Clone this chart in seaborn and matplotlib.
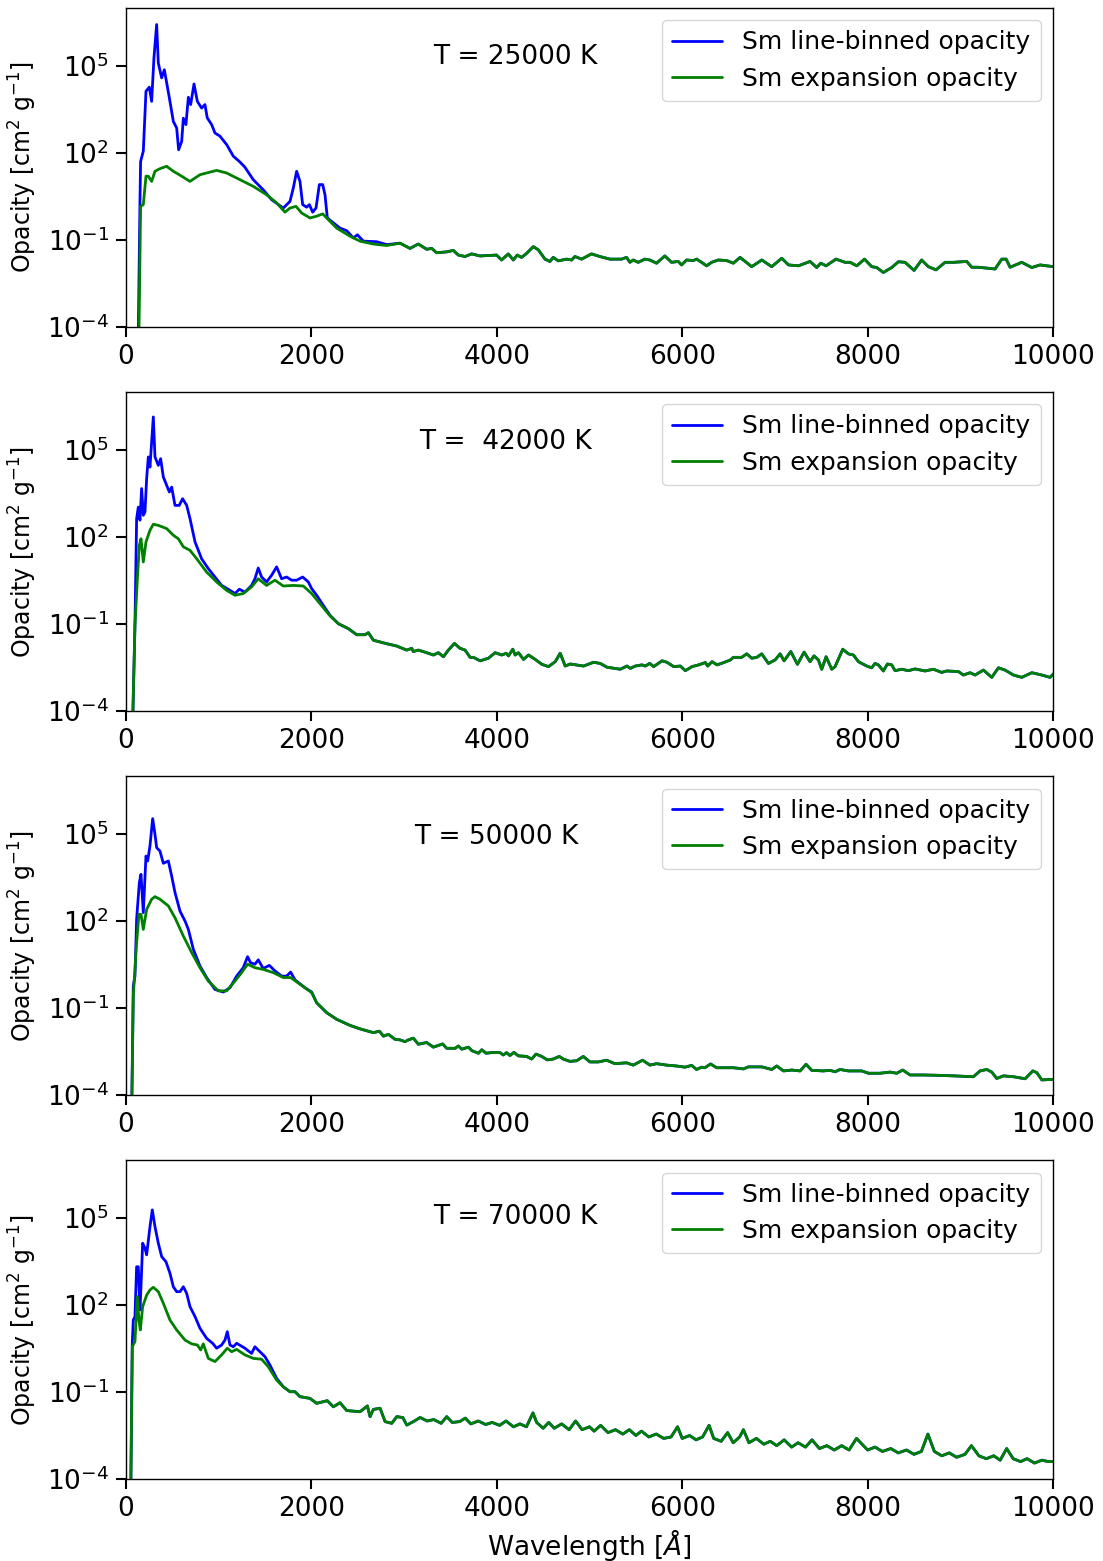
import matplotlib
matplotlib.use("Agg")
import matplotlib.pyplot as plt
import matplotlib.ticker as mticker
import seaborn as sns
import numpy as np

# ---- data: wavelength [A] and log10(opacity [cm^2 g^-1]) ----
temps = ["T = 25000 K", "T =  42000 K", "T = 50000 K", "T = 70000 K"]

# panel 1 : T = 25000 K
p1_blue_wl = [130, 151, 158, 187, 216, 252, 277, 302, 331, 349, 385, 414, 468, 511, 547, 568, 601, 619,
              647, 673, 698, 734, 770, 816, 852, 877, 924, 960, 1014, 1086, 1158, 1229, 1283, 1373, 1481,
              1571, 1697, 1769, 1805, 1841, 1877, 1906, 1949, 1978, 2014, 2050, 2086, 2122, 2147, 2172,
              2237, 2309, 2381, 2453, 2496, 2561, 2705, 2813]
p1_blue_lg = [-5, 0.33, 1.71, 2.06, 4.13, 4.27, 3.78, 5.28, 6.43, 5.1, 4.59, 4.87, 3.9, 3.09, 2.86, 2.11,
              2.4, 3.2, 2.98, 3.92, 3.67, 4.38, 3.78, 3.55, 3.67, 3.21, 2.98, 2.69, 2.58, 2.29, 1.89, 1.69,
              1.51, 1.08, 0.73, 0.39, 0.1, 0.33, 0.79, 1.37, 1.02, 0.22, 0.13, 0.22, -0.04, 0.1, 0.91, 0.91,
              0.56, -0.24, -0.41, -0.59, -0.68, -0.93, -0.82, -1.04, -1.06, -1.16]
p1_green_wl = [137, 158, 187, 216, 241, 277, 313, 367, 439, 511, 601, 690, 798, 978, 1086, 1229, 1373,
               1517, 1625, 1715, 1769, 1834, 1895, 1985, 2057, 2122, 2183, 2273, 2417, 2525, 2669, 2813]
p1_green_lg = [-5, 0.16, 0.22, 1.2, 1.2, 1.02, 1.37, 1.46, 1.54, 1.37, 1.2, 1.02, 1.25, 1.4, 1.31, 1.08,
               0.85, 0.56, 0.28, -0.04, 0.1, 0.16, -0.07, -0.24, -0.18, -0.1, -0.3, -0.59, -0.87, -1.04,
               -1.14, -1.19]
p1_tail_wl = [2956, 3064, 3153, 3244, 3298, 3351, 3460, 3531, 3585, 3657, 3729, 3819, 3998, 4052, 4124,
              4178, 4221, 4268, 4322, 4394, 4448, 4520, 4573, 4609, 4663, 4753, 4807, 4843, 4915, 5022,
              5112, 5220, 5346, 5400, 5436, 5472, 5525, 5597, 5651, 5723, 5813, 5885, 5957, 5993, 6047,
              6119, 6155, 6209, 6263, 6317, 6389, 6480, 6552, 6624, 6750, 6858, 6966, 7074, 7146, 7254,
              7379, 7451, 7494, 7552, 7659, 7757, 7811, 7883, 7966, 8044, 8098, 8170, 8260, 8332, 8404,
              8501, 8583, 8655, 8738, 8835, 8925, 9069, 9123, 9195, 9285, 9375, 9447, 9494, 9537, 9663,
              9771, 9860, 10004]
p1_tail_lg = [-1.11, -1.29, -1.14, -1.32, -1.29, -1.44, -1.41, -1.36, -1.52, -1.57, -1.48, -1.55, -1.52,
              -1.69, -1.48, -1.69, -1.52, -1.6, -1.46, -1.23, -1.34, -1.66, -1.74, -1.6, -1.72, -1.66,
              -1.69, -1.57, -1.66, -1.48, -1.57, -1.66, -1.66, -1.6, -1.77, -1.69, -1.77, -1.66, -1.69,
              -1.8, -1.55, -1.77, -1.74, -1.86, -1.69, -1.71, -1.66, -1.77, -1.89, -1.77, -1.69, -1.71,
              -1.8, -1.6, -1.92, -1.69, -1.92, -1.63, -1.86, -1.89, -1.74, -1.95, -1.8, -1.89, -1.66,
              -1.77, -1.77, -1.89, -1.66, -1.92, -1.95, -2.12, -1.95, -1.75, -1.77, -2.05, -1.69, -1.92,
              -2.03, -1.77, -1.77, -1.74, -1.94, -1.94, -1.97, -2.0, -1.66, -1.66, -1.94, -1.77, -1.95,
              -1.86, -1.92]

# panel 2 : T = 42000 K
p2_blue_wl = [68, 97, 115, 133, 151, 169, 187, 205, 223, 241, 259, 277, 295, 313, 349, 374, 403, 439, 468,
              493, 529, 575, 611, 655, 691, 745, 816, 888, 960, 1032, 1122, 1176, 1223, 1283, 1355, 1391,
              1427, 1463, 1517, 1571, 1625, 1679, 1733, 1787, 1841, 1906, 1967, 2003, 2057, 2129, 2201]
p2_blue_lg = [-5, -1.04, 2.63, 3.03, 2.58, 3.67, 2.75, 2.86, 4.01, 4.76, 4.41, 5.28, 6.14, 4.76, 4.47,
              4.7, 4.07, 3.78, 3.55, 3.72, 3.09, 3.09, 3.32, 3.09, 2.63, 1.83, 1.25, 0.91, 0.62, 0.33,
              0.16, 0.05, 0.2, 0.1, 0.33, 0.56, 0.93, 0.62, 0.45, 0.68, 0.97, 0.56, 0.62, 0.51, 0.51,
              0.62, 0.45, 0.22, -0.01, -0.36, -0.7]
p2_green_wl = [68, 97, 123, 144, 162, 187, 216, 259, 295, 349, 439, 511, 565, 619, 691, 763, 870, 978,
               1086, 1176, 1265, 1355, 1427, 1517, 1607, 1697, 1805, 1913, 2003, 2093, 2201]
p2_green_lg = [-5, -1.04, 0.56, 1.71, 1.94, 1.14, 1.83, 2.23, 2.44, 2.4, 2.29, 2.06, 1.94, 1.66, 1.54,
               1.25, 0.79, 0.45, 0.16, -0.01, 0.05, 0.28, 0.56, 0.33, 0.51, 0.31, 0.33, 0.31, 0.05, -0.3,
               -0.72]
p2_tail_wl = [2291, 2399, 2489, 2579, 2615, 2669, 2813, 2921, 3028, 3082, 3100, 3154, 3244, 3316, 3370,
              3424, 3478, 3543, 3604, 3658, 3712, 3748, 3820, 3910, 3982, 4054, 4101, 4126, 4173, 4198,
              4234, 4288, 4342, 4414, 4486, 4558, 4630, 4684, 4738, 4792, 4936, 5044, 5116, 5188, 5332,
              5404, 5440, 5494, 5566, 5602, 5649, 5692, 5782, 5836, 5908, 5980, 6034, 6106, 6178, 6250,
              6275, 6322, 6376, 6448, 6520, 6552, 6642, 6696, 6750, 6804, 6858, 6930, 7002, 7056, 7099,
              7171, 7243, 7315, 7379, 7422, 7469, 7505, 7552, 7613, 7649, 7732, 7793, 7847, 7901, 7991,
              8044, 8080, 8116, 8170, 8213, 8260, 8296, 8368, 8440, 8512, 8620, 8710, 8799, 8853, 8979,
              9033, 9105, 9159, 9249, 9339, 9411, 9483, 9573, 9663, 9771, 9879, 9969, 10004]
p2_tail_lg = [-0.99, -1.16, -1.37, -1.37, -1.3, -1.56, -1.68, -1.76, -1.9, -1.84, -1.95, -1.9, -1.99,
              -2.07, -1.99, -2.13, -1.9, -1.67, -1.84, -1.9, -2.15, -2.15, -2.27, -2.18, -1.99, -2.07,
              -2.01, -2.1, -1.87, -2.07, -1.99, -2.22, -2.07, -2.22, -2.39, -2.47, -2.3, -2.01, -2.45,
              -2.38, -2.45, -2.32, -2.36, -2.49, -2.56, -2.45, -2.53, -2.45, -2.41, -2.45, -2.36, -2.47,
              -2.27, -2.32, -2.47, -2.45, -2.61, -2.47, -2.41, -2.33, -2.45, -2.3, -2.41, -2.33, -2.24,
              -2.15, -2.15, -2.03, -2.18, -2.15, -2.03, -2.36, -2.24, -2.03, -2.27, -1.95, -2.39, -1.97,
              -2.3, -2.1, -2.24, -2.56, -2.13, -2.56, -2.47, -1.87, -2.03, -2.07, -2.3, -2.45, -2.51,
              -2.36, -2.41, -2.62, -2.38, -2.41, -2.61, -2.56, -2.61, -2.55, -2.62, -2.56, -2.67, -2.62,
              -2.64, -2.76, -2.68, -2.76, -2.59, -2.84, -2.51, -2.59, -2.76, -2.84, -2.68, -2.76, -2.84,
              -2.72]

# panel 3 : T = 50000 K
p3_blue_wl = [60, 79, 97, 115, 144, 162, 187, 216, 234, 259, 288, 313, 331, 367, 403, 457, 493, 529, 583,
              637, 673, 727, 798, 870, 960, 1050, 1122, 1194, 1265, 1312, 1344, 1391, 1427, 1481, 1546,
              1607, 1679, 1733, 1776, 1823, 1931, 2003]
p3_blue_lg = [-5, -0.24, 0.1, 2.06, 3.32, 3.61, 2.29, 4.24, 4.07, 4.59, 5.53, 4.99, 4.53, 4.41, 3.99,
              4.07, 3.55, 2.98, 2.34, 2.0, 1.71, 1.02, 0.45, 0.05, -0.36, -0.45, -0.3, 0.1, 0.39, 0.77,
              0.56, 0.51, 0.66, 0.36, 0.47, 0.28, 0.1, 0.1, 0.24, -0.03, -0.3, -0.45]
p3_green_wl = [60, 79, 115, 140, 162, 187, 223, 277, 313, 367, 457, 529, 619, 709, 798, 888, 996, 1086,
               1176, 1247, 1312, 1391, 1481, 1589, 1697, 1776, 1877, 2003]
p3_green_lg = [-5, -0.59, 1.25, 2.23, 2.23, 1.71, 2.4, 2.75, 2.84, 2.75, 2.52, 2.11, 1.48, 0.91, 0.39,
               -0.07, -0.41, -0.41, -0.07, 0.22, 0.51, 0.39, 0.33, 0.22, 0.05, 0.05, -0.18, -0.47]
p3_tail_wl = [2057, 2165, 2273, 2417, 2525, 2669, 2734, 2777, 2831, 2903, 2956, 3010, 3046, 3100, 3154,
              3244, 3316, 3416, 3460, 3550, 3586, 3622, 3694, 3730, 3802, 3838, 3884, 3963, 4035, 4070,
              4106, 4142, 4185, 4232, 4322, 4376, 4423, 4484, 4545, 4609, 4674, 4717, 4789, 4861, 4933,
              5005, 5095, 5185, 5274, 5400, 5472, 5573, 5652, 5724, 5832, 5940, 6030, 6102, 6155, 6209,
              6245, 6306, 6371, 6515, 6552, 6660, 6714, 6858, 6966, 7020, 7092, 7182, 7272, 7336, 7397,
              7523, 7595, 7649, 7703, 7793, 7937, 8009, 8134, 8242, 8314, 8379, 8458, 8602, 8746, 8925,
              9141, 9213, 9285, 9339, 9393, 9465, 9573, 9699, 9782, 9825, 9879, 10004]
p3_tail_lg = [-0.82, -1.16, -1.39, -1.6, -1.72, -1.85, -1.8, -1.97, -1.91, -2.08, -2.1, -2.16, -2.1,
              -2.04, -2.25, -2.19, -2.35, -2.24, -2.39, -2.39, -2.31, -2.42, -2.35, -2.47, -2.56, -2.44,
              -2.56, -2.53, -2.54, -2.62, -2.54, -2.64, -2.53, -2.65, -2.67, -2.76, -2.59, -2.67, -2.79,
              -2.76, -2.67, -2.76, -2.84, -2.82, -2.67, -2.86, -2.86, -2.8, -2.92, -2.89, -2.97, -2.8,
              -2.97, -2.92, -2.97, -3.0, -3.04, -2.98, -3.12, -3.04, -3.06, -2.93, -3.06, -3.06, -3.06,
              -3.1, -3.03, -3.03, -3.12, -3.0, -3.17, -3.14, -3.17, -2.94, -3.15, -3.17, -3.15, -3.2,
              -3.12, -3.17, -3.17, -3.25, -3.25, -3.21, -3.25, -3.14, -3.31, -3.31, -3.32, -3.34, -3.37,
              -3.17, -3.12, -3.21, -3.43, -3.34, -3.37, -3.44, -3.17, -3.23, -3.48, -3.46]

# panel 4 : T = 70000 K
p4_blue_wl = [50, 68, 79, 97, 115, 133, 151, 162, 180, 205, 223, 259, 284, 313, 349, 385, 432, 475, 511,
              547, 583, 619, 655, 691, 745, 798, 870, 935, 978, 1032, 1068, 1093, 1122, 1158, 1194, 1283,
              1355, 1391, 1445, 1499, 1553, 1625, 1697]
p4_blue_lg = [-5, 0.68, 1.48, 1.6, 3.32, 3.32, 1.83, 2.63, 4.13, 3.96, 3.73, 4.7, 5.28, 4.7, 4.13, 3.67,
              3.49, 3.09, 2.63, 2.46, 2.46, 2.63, 2.4, 1.94, 1.6, 1.2, 0.85, 0.68, 0.51, 0.62, 0.79, 1.08,
              0.62, 0.56, 0.68, 0.51, 0.33, 0.56, 0.39, 0.22, -0.07, -0.53, -0.82]
p4_green_wl = [50, 68, 97, 122, 140, 155, 180, 223, 259, 295, 349, 403, 475, 547, 637, 709, 770, 806,
               834, 888, 960, 1032, 1093, 1140, 1194, 1283, 1373, 1463, 1535, 1625, 1697]
p4_green_lg = [-5, 0.56, 0.74, 2.29, 1.48, 1.14, 1.94, 2.34, 2.52, 2.61, 2.46, 2.06, 1.48, 1.14, 0.79,
               0.66, 0.62, 0.45, 0.66, 0.16, 0.05, 0.28, 0.51, 0.39, 0.47, 0.28, 0.16, 0.13, -0.13, -0.59,
               -0.82]
p4_tail_wl = [1769, 1823, 1877, 1985, 2057, 2172, 2237, 2309, 2381, 2525, 2604, 2633, 2669, 2741, 2795,
              2867, 2921, 2986, 3029, 3101, 3173, 3250, 3320, 3400, 3460, 3520, 3600, 3660, 3720, 3800,
              3880, 3950, 4030, 4100, 4180, 4250, 4320, 4390, 4430, 4500, 4560, 4620, 4700, 4780, 4850,
              4920, 5000, 5050, 5120, 5200, 5280, 5360, 5430, 5500, 5560, 5640, 5720, 5800, 5880, 5950,
              6000, 6080, 6150, 6220, 6290, 6340, 6420, 6490, 6550, 6620, 6660, 6720, 6800, 6880, 6950,
              7020, 7100, 7180, 7250, 7330, 7400, 7480, 7560, 7640, 7720, 7800, 7880, 7940, 8000, 8080,
              8160, 8250, 8330, 8420, 8500, 8580, 8650, 8720, 8800, 8880, 8960, 9050, 9120, 9200, 9280,
              9360, 9430, 9500, 9570, 9650, 9720, 9800, 9880, 9950, 10004]
p4_tail_lg = [-0.99, -0.99, -1.16, -1.22, -1.39, -1.3, -1.51, -1.37, -1.64, -1.68, -1.48, -1.85, -1.6,
              -1.56, -2.02, -2.08, -1.85, -1.88, -2.14, -2.02, -1.88, -2.0, -1.95, -2.08, -1.85, -2.05,
              -2.02, -1.9, -2.1, -2.0, -2.12, -2.05, -2.15, -2.0, -2.2, -2.1, -2.2, -1.72, -2.05, -2.25,
              -2.05, -2.25, -2.1, -2.3, -2.0, -2.3, -2.2, -2.35, -2.15, -2.4, -2.3, -2.45, -2.3, -2.5,
              -2.35, -2.55, -2.45, -2.6, -2.55, -2.2, -2.6, -2.5, -2.65, -2.55, -2.15, -2.6, -2.7, -2.4,
              -2.75, -2.55, -2.3, -2.75, -2.6, -2.8, -2.7, -2.85, -2.65, -2.9, -2.75, -2.9, -2.65, -2.95,
              -2.85, -3.0, -2.85, -3.0, -2.6, -2.8, -3.0, -2.9, -3.05, -2.95, -3.1, -3.0, -3.15, -3.05,
              -2.45, -3.05, -3.2, -3.1, -3.25, -3.15, -2.85, -3.2, -3.3, -3.2, -3.35, -2.95, -3.3, -3.4,
              -3.3, -3.45, -3.35, -3.4, -3.4]

panels = [
    (p1_blue_wl, p1_blue_lg, p1_green_wl, p1_green_lg, p1_tail_wl, p1_tail_lg),
    (p2_blue_wl, p2_blue_lg, p2_green_wl, p2_green_lg, p2_tail_wl, p2_tail_lg),
    (p3_blue_wl, p3_blue_lg, p3_green_wl, p3_green_lg, p3_tail_wl, p3_tail_lg),
    (p4_blue_wl, p4_blue_lg, p4_green_wl, p4_green_lg, p4_tail_wl, p4_tail_lg),
]
label_pos = [(0.42, 0.845), (0.409, 0.842), (0.40, 0.81), (0.42, 0.822)]

sns.set_style("ticks")
plt.rcParams.update({
    "font.family": ["DejaVu Sans"],
    "axes.edgecolor": "black",
    "xtick.color": "black",
    "ytick.color": "black",
    "text.color": "black",
    "axes.labelcolor": "black",
    "mathtext.default": "regular",
})

fig, axes = plt.subplots(4, 1, figsize=(11.03, 15.61), dpi=100)
fig.subplots_adjust(left=0.1142, right=0.9547, top=0.99488, bottom=0.05253, hspace=0.2038)

for ax, (bwl, blg, gwl, glg, twl, tlg), title, (tx, ty) in zip(axes, panels, temps, label_pos):
    blue_x = np.array(bwl + twl, dtype=float)
    blue_y = 10.0 ** np.array(blg + tlg)
    green_x = np.array(gwl + twl, dtype=float)
    green_y = 10.0 ** np.array(glg + tlg)
    sns.lineplot(x=blue_x, y=blue_y, ax=ax, color="b", lw=2.0, sort=False, estimator=None,
                 label="Sm line-binned opacity")
    sns.lineplot(x=green_x, y=green_y, ax=ax, color="g", lw=2.0, sort=False, estimator=None,
                 label="Sm expansion opacity")
    ax.set_yscale("log")
    ax.set_xlim(0, 10000)
    ax.set_ylim(1e-4, 1e7)
    ax.set_yticks([1e-4, 1e-1, 1e2, 1e5])
    ax.yaxis.set_major_formatter(mticker.LogFormatterMathtext())
    ax.yaxis.set_minor_locator(mticker.NullLocator())
    ax.set_xticks([0, 2000, 4000, 6000, 8000, 10000])
    ax.tick_params(axis="both", which="major", labelsize=19, length=7, width=1.5, pad=5,
                   direction="out")
    for sp in ax.spines.values():
        sp.set_linewidth(1.0)
        sp.set_visible(True)
    ax.set_ylabel(r"Opacity [cm$^2$ g$^{-1}$]", fontsize=17, labelpad=6)
    ax.set_xlabel("")
    ax.text(tx, ty, title, transform=ax.transAxes, ha="center", va="center", fontsize=19)
    ax.legend(loc="upper right", fontsize=18, frameon=True)

axes[-1].set_xlabel(r"Wavelength [$\it{\AA}$]", fontsize=19, labelpad=4)

fig.savefig("out.png", dpi=100)
